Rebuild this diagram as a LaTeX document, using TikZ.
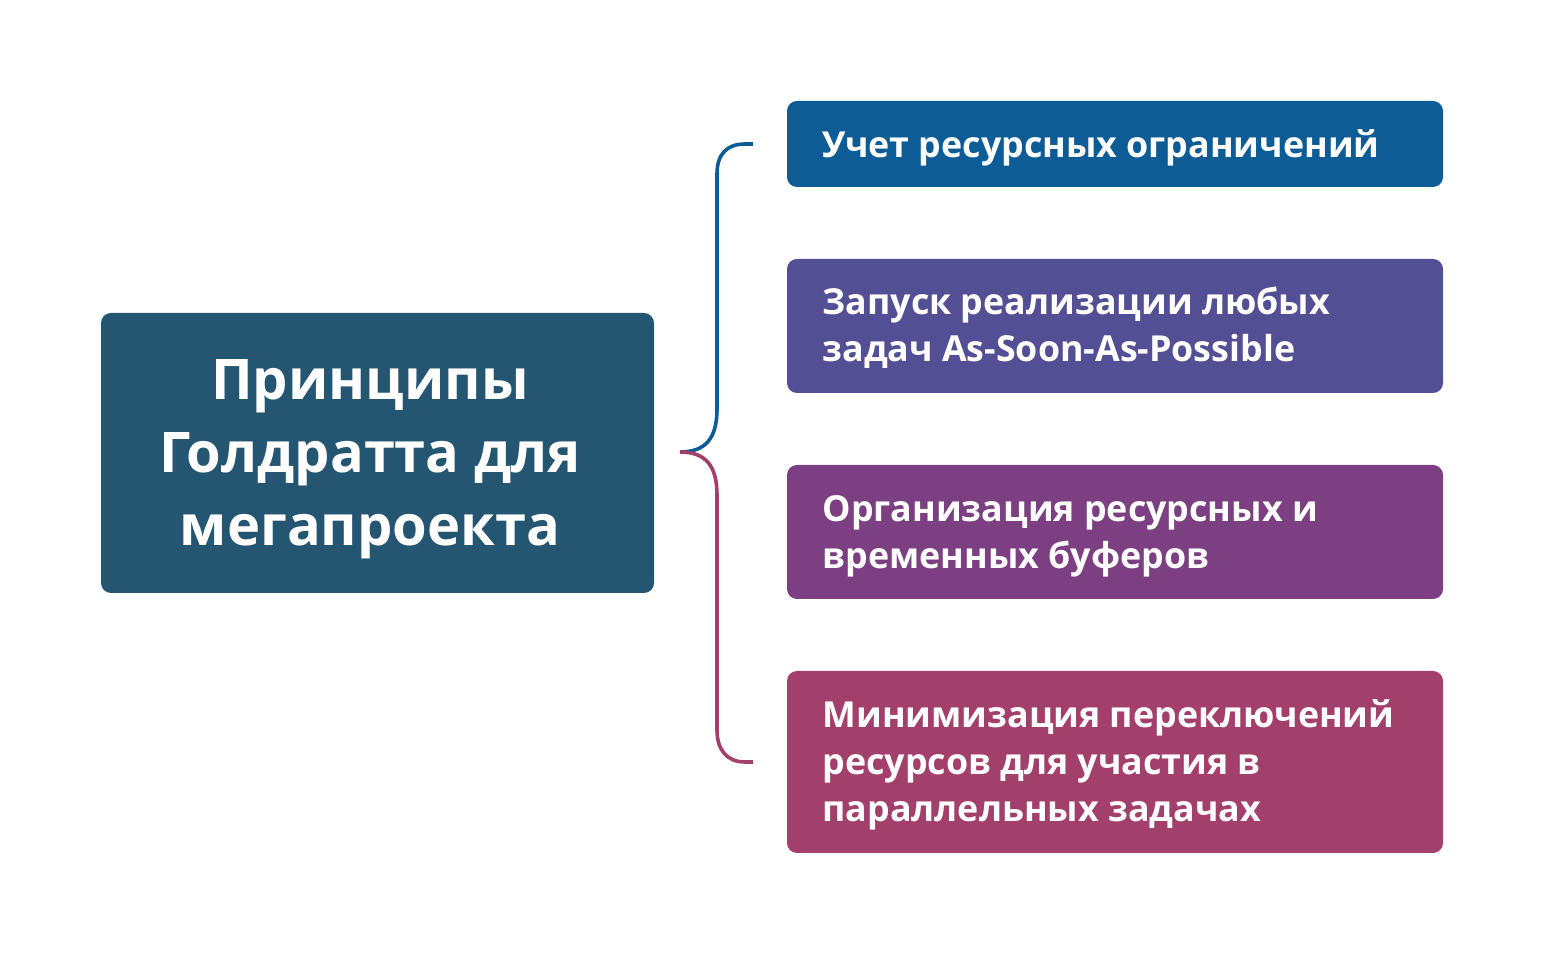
\documentclass[tikz,border=0pt]{standalone}
\usepackage{fontspec}
\setmainfont{Open Sans}
\begin{document}
\begin{tikzpicture}[x=1pt,y=1pt,
  box/.style={rounded corners=10pt, draw=none},
  itemtext/.style={anchor=base west, text=white, font=\fontsize{35.8}{47}\selectfont\bfseries, align=left},
  brk/.style={line width=3.6pt}]
\definecolor{cmain}{HTML}{245571}
\definecolor{c1}{HTML}{0E5C96}
\definecolor{c2}{HTML}{534F95}
\definecolor{c3}{HTML}{7B3F82}
\definecolor{c4}{HTML}{A23F6A}
\useasboundingbox (0,0) rectangle (1544,969);
% main box
\fill[cmain, box] (101,376) rectangle (654,656);
\node[text=white, font=\fontsize{56}{73}\selectfont\bfseries, align=center] (main) at (370,510) {Принципы\\Голдратта для\\мегапроекта};
% right boxes
\fill[c1, box] (787,782) rectangle (1443,868);
\fill[c2, box] (787,576) rectangle (1443,710);
\fill[c3, box] (787,370) rectangle (1443,504);
\fill[c4, box] (787,116) rectangle (1443,298);
\node[itemtext] (t1) at (819,811) {Учет ресурсных ограничений};
\node[itemtext] (t2) at (819,654) {Запуск реализации любых};
\node[itemtext] (t2b) at (819,607) {задач As-Soon-As-Possible};
\node[itemtext] (t3) at (819,447) {Организация ресурсных и};
\node[itemtext] (t3b) at (819,400) {временных буферов};
\node[itemtext] (t4) at (819,241) {Минимизация переключений};
\node[itemtext] (t4b) at (819,194) {ресурсов для участия в};
\node[itemtext] (t4c) at (819,147) {параллельных задачах};
% bracket
\coordinate (tip) at (680,517);
\coordinate (top) at (753,825);
\coordinate (bot) at (753,207);
\draw[brk, c1] (top) -- (745,825) .. controls (727,825) and (717,815) .. (717,795) -- (717,560) .. controls (717,530) and (705,517) .. (tip);
\draw[brk, c4] (tip) .. controls (705,517) and (717,504) .. (717,474) -- (717,239) .. controls (717,219) and (727,207) .. (745,207) -- (bot);
\end{tikzpicture}
\end{document}
